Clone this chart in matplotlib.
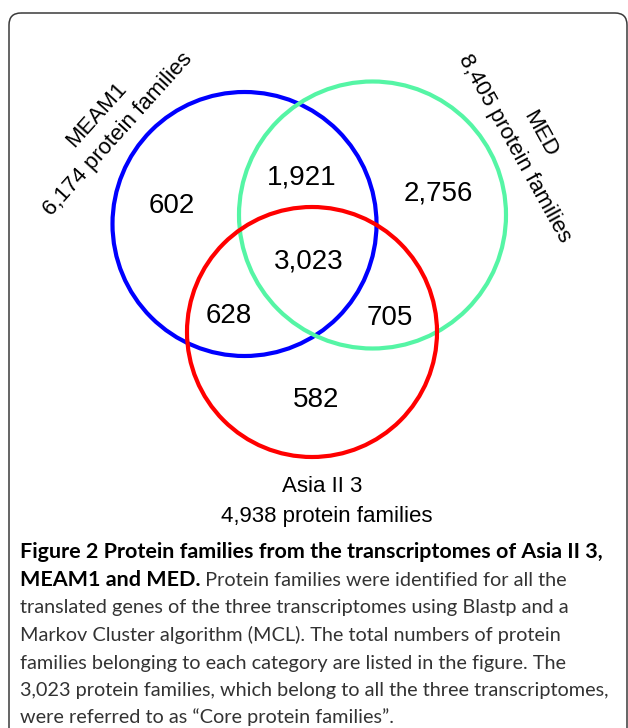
import matplotlib
matplotlib.use('Agg')
import matplotlib.pyplot as plt
from matplotlib.patches import Circle, FancyBboxPatch

# ---------------- data ----------------
set_names = ['MEAM1', 'MED', 'Asia II 3']
set_totals = ['6,174', '8,405', '4,938']
set_colors = ['#0000FF', '#55F5A5', '#FF0000']
region_values = ['602', '1,921', '2,756', '3,023', '628', '705', '582']

caption_bold_1 = 'Figure 2 Protein families from the transcriptomes of Asia II 3,'
caption_bold_2 = 'MEAM1 and MED.'
caption_rest_2 = ' Protein families were identified for all the'
caption_lines = [
    'translated genes of the three transcriptomes using Blastp and a',
    'Markov Cluster algorithm (MCL). The total numbers of protein',
    'families belonging to each category are listed in the figure. The',
    '3,023 protein families, which belong to all the three transcriptomes,',
    'were referred to as \u201cCore protein families\u201d.',
]

# ---------------- layout ----------------
W, H = 628, 728
circles = [((244.5, 224.0), 132.0), ((372.5, 215.0), 133.5), ((312.0, 332.0), 125.0)]
region_pos = [(172, 203), (302, 175), (438, 191), (309, 258), (229, 313), (390, 315), (316, 397)]

fig = plt.figure(figsize=(W / 100, H / 100), dpi=100)
ax = fig.add_axes([0, 0, 1, 1])
ax.set_xlim(0, W)
ax.set_ylim(H, 0)
ax.axis('off')

# frame
frame = FancyBboxPatch((9, 13), 618, 800, boxstyle='round,pad=0,rounding_size=12',
                       ec='#3a3a3a', fc='none', lw=1.1)
ax.add_patch(frame)

for (c, r), col in zip(circles, set_colors):
    ax.add_patch(Circle(c, r, fill=False, ec=col, lw=3.0))

NUMFONT = 'Liberation Sans'
for v, (x, y) in zip(region_values, region_pos):
    ax.text(x, y + 10, v, ha='center', va='baseline', fontsize=20, family=NUMFONT, color='black')

# set labels
def two_line(center, angle_deg, l1, l2):
    import math
    th = math.radians(angle_deg)
    d = (math.cos(th), -math.sin(th))
    n = (-d[1], d[0])
    cx, cy = center
    b1 = (cx - 7 * n[0], cy - 7 * n[1])
    b2 = (cx + 22 * n[0], cy + 22 * n[1])
    for (x, y), s in ((b1, l1), (b2, l2)):
        ax.text(x, y, s, ha='center', va='baseline', rotation=angle_deg,
                rotation_mode='anchor', fontsize=16, family=NUMFONT, color='black')

two_line((106, 123.5), 48, set_names[0], set_totals[0] + ' protein families')
two_line((529, 140), -61, set_names[1], set_totals[1] + ' protein families')
ax.text(322, 492, set_names[2], ha='center', va='baseline', fontsize=16, family=NUMFONT)
ax.text(327, 522, set_totals[2] + ' protein families', ha='center', va='baseline',
        fontsize=16, family=NUMFONT)

# caption
CAPFONT = 'Lato'
x0 = 20
baselines = [558, 586, 613.5, 641, 668.5, 696, 723]
t1 = ax.text(x0, baselines[0], caption_bold_1, fontsize=14, family=CAPFONT,
             fontweight='bold', va='baseline', color='black')
probe = ax.text(x0, baselines[5], caption_lines[3], fontsize=14, family=CAPFONT,
                va='baseline', color='#333333')
fig.canvas.draw()
fs = 14 * 585 / t1.get_window_extent().width
fs_reg = 14 * 590 / probe.get_window_extent().width
probe.remove()
t1.set_fontsize(fs)
tb = ax.text(x0, baselines[1], caption_bold_2, fontsize=fs, family=CAPFONT,
             fontweight='bold', va='baseline', color='black')
fig.canvas.draw()
bb = tb.get_window_extent()
x_end = ax.transData.inverted().transform((bb.x1, bb.y0))[0]
ax.text(x_end, baselines[1], caption_rest_2, fontsize=fs_reg, family=CAPFONT,
        va='baseline', color='#333333')
for s, yb in zip(caption_lines, baselines[2:]):
    ax.text(x0, yb, s, fontsize=fs_reg, family=CAPFONT, va='baseline', color='#333333')

fig.savefig('out.png', dpi=100)
